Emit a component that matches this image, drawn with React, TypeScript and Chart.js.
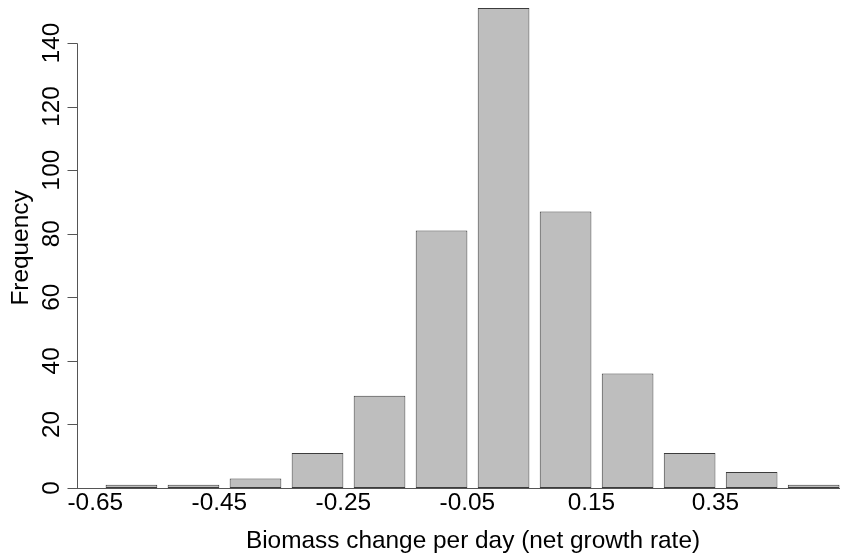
import React, { useEffect, useRef } from "react";
import { Chart, registerables } from "chart.js";

Chart.register(...registerables);

// Histogram bin counts (left to right)
const frequencies = [1, 1, 3, 11, 29, 81, 151, 87, 36, 11, 5, 1];
// x-axis tick labels (every second bar boundary)
const tickLabels = ["-0.65", "-0.45", "-0.25", "-0.05", "0.15", "0.35"];
// y-axis tick values
const yTicks = [0, 20, 40, 60, 80, 100, 120, 140];

const xTitle = "Biomass change per day (net growth rate)";
const yTitle = "Frequency";

// barplot layout in R units: bar width 1, space 0.2
const SPACE = 0.2;
const PITCH = 1 + SPACE;
const barCenters = frequencies.map((_, i) => SPACE + 0.5 + PITCH * i);
const tickPositions = tickLabels.map((_, k) => 2 * PITCH * k);

const FONT = '"Liberation Sans", Arial, Helvetica, sans-serif';

const axesPlugin = {
  id: "rAxes",
  afterDraw(chart: any) {
    const { ctx, chartArea, scales } = chart;
    const xs = scales.x;
    const ys = scales.y;
    ctx.save();
    ctx.strokeStyle = "#555";
    ctx.lineWidth = 1;
    ctx.fillStyle = "#000";
    ctx.font = `24.4px ${FONT}`;

    // x axis line
    const y0 = Math.round(ys.getPixelForValue(0)) + 0.5;
    ctx.beginPath();
    ctx.moveTo(chartArea.left, y0);
    ctx.lineTo(chartArea.right, y0);
    ctx.stroke();

    // x tick labels
    ctx.textAlign = "center";
    ctx.textBaseline = "alphabetic";
    tickLabels.forEach((lab, k) => {
      const px = xs.getPixelForValue(tickPositions[k]);
      ctx.fillText(lab, px, 510);
    });

    // y axis line
    const yAxisX = Math.round(xs.getPixelForValue(-0.36)) + 0.5;
    ctx.beginPath();
    ctx.moveTo(yAxisX, Math.round(ys.getPixelForValue(yTicks[yTicks.length - 1])) + 0.5);
    ctx.lineTo(yAxisX, y0);
    ctx.stroke();

    // y ticks and labels
    yTicks.forEach((v) => {
      const py = Math.round(ys.getPixelForValue(v)) + 0.5;
      ctx.beginPath();
      ctx.moveTo(yAxisX - 10, py);
      ctx.lineTo(yAxisX, py);
      ctx.stroke();
      ctx.save();
      ctx.translate(59, ys.getPixelForValue(v));
      ctx.rotate(-Math.PI / 2);
      ctx.textAlign = "center";
      ctx.fillText(String(v), 0, 0);
      ctx.restore();
    });

    // titles
    ctx.textAlign = "center";
    ctx.fillText(xTitle, 473, 548);
    ctx.save();
    ctx.translate(28, 248);
    ctx.rotate(-Math.PI / 2);
    ctx.fillText(yTitle, 0, 0);
    ctx.restore();

    ctx.restore();
  },
};

export default function App() {
  const ref = useRef<HTMLCanvasElement | null>(null);
  useEffect(() => {
    if (!ref.current) return;
    const chart = new Chart(ref.current, {
      type: "bar",
      data: {
        datasets: [
          {
            data: frequencies.map((f, i) => ({ x: barCenters[i], y: f })),
            backgroundColor: "#bebebe",
            borderColor: "#3c3c3c",
            borderWidth: 1,
            borderSkipped: false,
            categoryPercentage: 1,
            barPercentage: 1 / PITCH,
          } as any,
        ],
      },
      options: {
        responsive: false,
        animation: false,
        devicePixelRatio: 1,
        layout: { padding: { left: 68, right: 20, top: 0, bottom: 68 } },
        plugins: { legend: { display: false }, tooltip: { enabled: false }, title: { display: false } },
        scales: {
          x: {
            type: "linear",
            display: false,
            offset: false,
            min: -0.528,
            max: 14.41,
            afterBuildTicks: (scale: any) => {
              scale.ticks = tickPositions.map((v) => ({ value: v }));
            },
          },
          y: {
            type: "linear",
            display: false,
            min: 0,
            max: 153.5,
          },
        },
      },
      plugins: [axesPlugin],
    });
    return () => chart.destroy();
  }, []);
  return (
    <div style={{ position: "absolute", left: 0, top: 0, width: 860, height: 556, background: "#fff" }}>
      <canvas ref={ref} width={860} height={556} />
    </div>
  );
}
